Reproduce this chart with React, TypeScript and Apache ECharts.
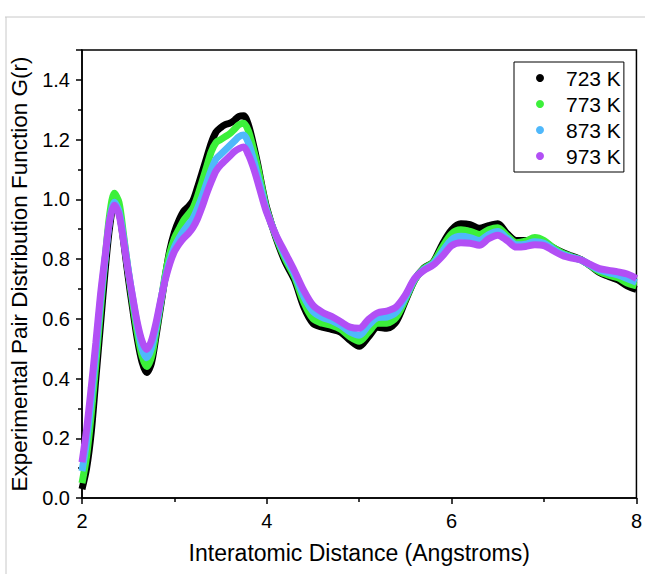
import React, { useEffect, useRef } from "react";
import * as echarts from "echarts";

const distances = [
  2.0, 2.05, 2.1, 2.15, 2.2, 2.25, 2.3, 2.35, 2.4, 2.45, 2.5, 2.55, 2.6, 2.65, 2.7, 2.75, 2.8, 2.85, 2.9, 2.95,
  3.0, 3.05, 3.1, 3.15, 3.2, 3.25, 3.3, 3.35, 3.4, 3.45, 3.5, 3.55, 3.6, 3.65, 3.7, 3.75, 3.8, 3.85, 3.9, 3.95,
  4.0, 4.1, 4.2, 4.3, 4.4, 4.5, 4.6, 4.7, 4.8, 4.9, 5.0, 5.1, 5.2, 5.3, 5.4, 5.5, 5.6, 5.7, 5.8, 5.9,
  6.0, 6.1, 6.2, 6.3, 6.4, 6.5, 6.6, 6.7, 6.8, 6.9, 7.0, 7.1, 7.2, 7.3, 7.4, 7.5, 7.6, 7.7, 7.8, 7.9, 8.0,
];

const g723 = [
  0.03, 0.1, 0.22, 0.4, 0.58, 0.76, 0.91, 0.985, 0.96, 0.86, 0.74, 0.63, 0.53, 0.455, 0.42, 0.45, 0.54, 0.64, 0.74, 0.83,
  0.89, 0.93, 0.96, 0.975, 0.995, 1.04, 1.09, 1.14, 1.19, 1.225, 1.24, 1.25, 1.255, 1.265, 1.278, 1.28, 1.25, 1.19, 1.12, 1.04,
  0.97, 0.87, 0.79, 0.73, 0.64, 0.585, 0.572, 0.565, 0.555, 0.528, 0.508, 0.54, 0.572, 0.568, 0.59, 0.66, 0.73, 0.77, 0.79, 0.85,
  0.898, 0.918, 0.915, 0.903, 0.912, 0.918, 0.885, 0.862, 0.862, 0.865, 0.858, 0.838, 0.822, 0.81, 0.798, 0.778, 0.755, 0.742, 0.73, 0.71, 0.698,
];

const g773 = [
  0.05, 0.14, 0.28, 0.45, 0.63, 0.8, 0.95, 1.02, 0.99, 0.88, 0.76, 0.65, 0.55, 0.475, 0.44, 0.47, 0.555, 0.65, 0.745, 0.82,
  0.87, 0.9, 0.93, 0.95, 0.97, 1.01, 1.06, 1.11, 1.16, 1.19, 1.2, 1.21, 1.22, 1.235, 1.25, 1.255, 1.23, 1.175, 1.11, 1.035,
  0.965, 0.875, 0.8, 0.74, 0.655, 0.6, 0.585, 0.578, 0.565, 0.54, 0.525, 0.555, 0.585, 0.585, 0.605, 0.665, 0.73, 0.768, 0.788, 0.84,
  0.885, 0.898, 0.893, 0.882, 0.898, 0.905, 0.878, 0.855, 0.86, 0.872, 0.862, 0.838, 0.82, 0.808, 0.797, 0.778, 0.758, 0.746, 0.737, 0.72, 0.71,
];

const g873 = [
  0.09, 0.19, 0.33, 0.49, 0.66, 0.8, 0.93, 0.99, 0.96, 0.87, 0.765, 0.665, 0.575, 0.5, 0.47, 0.5, 0.57, 0.655, 0.735, 0.795,
  0.84, 0.87, 0.895, 0.915, 0.935, 0.97, 1.01, 1.055, 1.1, 1.135, 1.15, 1.165, 1.18, 1.195, 1.21, 1.215, 1.19, 1.14, 1.08, 1.02,
  0.96, 0.878, 0.81, 0.75, 0.675, 0.625, 0.605, 0.594, 0.578, 0.556, 0.545, 0.578, 0.604, 0.606, 0.622, 0.672, 0.733, 0.765, 0.784, 0.825,
  0.865, 0.876, 0.872, 0.862, 0.882, 0.892, 0.87, 0.848, 0.85, 0.858, 0.853, 0.833, 0.816, 0.806, 0.797, 0.78, 0.763, 0.754, 0.747, 0.735, 0.722,
];

const g973 = [
  0.12, 0.23, 0.37, 0.52, 0.68, 0.81, 0.93, 0.98, 0.95, 0.86, 0.76, 0.67, 0.585, 0.525, 0.497, 0.525, 0.585, 0.66, 0.73, 0.785,
  0.825, 0.85, 0.87, 0.885, 0.905, 0.935, 0.975, 1.02, 1.06, 1.095, 1.115, 1.13, 1.145, 1.16, 1.17, 1.175, 1.15, 1.11, 1.06, 1.005,
  0.955, 0.88, 0.82, 0.76, 0.695, 0.645, 0.622, 0.608, 0.59, 0.572, 0.568, 0.598, 0.62, 0.626, 0.64, 0.68, 0.735, 0.762, 0.78, 0.81,
  0.845, 0.855, 0.853, 0.846, 0.868, 0.88, 0.862, 0.84, 0.842, 0.848, 0.845, 0.828, 0.812, 0.803, 0.797, 0.782, 0.768, 0.762, 0.757, 0.75, 0.735,
];

const seriesNames = ["723 K", "773 K", "873 K", "973 K"];
const seriesColors = ["#000000", "#3cf03a", "#4fb8fb", "#b24ff5"];
const seriesValues = [g723, g773, g873, g973];

const FONT = "'Liberation Sans', Arial, sans-serif";

export default function App() {
  const ref = useRef<HTMLDivElement>(null);

  useEffect(() => {
    if (!ref.current) return;
    const chart = echarts.init(ref.current, undefined, { renderer: "svg" });
    const series = seriesValues.map((vals, i) => ({
      name: seriesNames[i],
      type: "line",
      data: distances.map((x, j) => [x, vals[j]]),
      smooth: 0.3,
      showSymbol: false,
      symbol: "circle",
      color: seriesColors[i],
      itemStyle: { color: seriesColors[i] },
      lineStyle: { color: seriesColors[i], width: 7 },
      z: 2 + i,
    }));

    chart.setOption({
      animation: false,
      backgroundColor: "#ffffff",
      textStyle: { fontFamily: FONT },
      grid: {
        left: 81,
        right: 8,
        top: 50,
        bottom: 76,
        show: true,
        borderColor: "#000",
        borderWidth: 1.5,
        backgroundColor: "transparent",
      },
      legend: {
        left: 514,
        top: 62,
        orient: "vertical",
        data: seriesNames,
        icon: "circle",
        itemWidth: 8,
        itemHeight: 8,
        itemGap: 4,
        padding: [5, 3, 5, 22],
        borderColor: "#000",
        borderWidth: 1,
        backgroundColor: "#fff",
        textStyle: { fontFamily: FONT, fontSize: 21, color: "#000", padding: [0, 0, 0, 17], lineHeight: 22 },
      },
      xAxis: {
        type: "value",
        min: 2,
        max: 8,
        interval: 2,
        name: "Interatomic Distance (Angstroms)",
        nameLocation: "middle",
        nameGap: 43,
        nameTextStyle: { fontFamily: FONT, fontSize: 23, color: "#000" },
        axisLine: { show: true, lineStyle: { color: "#000", width: 1.5 } },
        axisTick: { show: true, inside: false, length: 6, lineStyle: { color: "#000", width: 1.5 } },
        minorTick: { show: true, splitNumber: 2, length: 4, lineStyle: { color: "#000", width: 1.5 } },
        axisLabel: { fontFamily: FONT, fontSize: 20, color: "#000", margin: 13 },
        splitLine: { show: false },
      },
      yAxis: {
        type: "value",
        min: 0,
        max: 1.5,
        interval: 0.2,
        name: "Experimental Pair Distribution Function G(r)",
        nameLocation: "middle",
        nameRotate: 90,
        nameGap: 51,
        nameTextStyle: { fontFamily: FONT, fontSize: 22.5, color: "#000" },
        axisLine: { show: true, lineStyle: { color: "#000", width: 1.5 } },
        axisTick: { show: true, inside: false, length: 6, lineStyle: { color: "#000", width: 1.5 } },
        minorTick: { show: true, splitNumber: 2, length: 4, lineStyle: { color: "#000", width: 1.5 } },
        axisLabel: {
          fontFamily: FONT,
          fontSize: 20,
          color: "#000",
          margin: 12,
          formatter: (v: number) => {
            const k = Math.round(v * 10);
            return k % 2 === 0 ? (k / 10).toFixed(1) : "";
          },
        },
        splitLine: { show: false },
      },
      graphic: [
        { type: "line", shape: { x1: 5, y1: 17, x2: 645, y2: 17 }, style: { stroke: "#c8c8c8", lineWidth: 1 } },
        { type: "line", shape: { x1: 6, y1: 17, x2: 6, y2: 574 }, style: { stroke: "#c8c8c8", lineWidth: 1 } },
      ],
      series,
    });
    return () => chart.dispose();
  }, []);

  return (
    <div
      ref={ref}
      style={{ position: "fixed", left: 0, top: 0, width: 645, height: 574, background: "#fff" }}
    />
  );
}
